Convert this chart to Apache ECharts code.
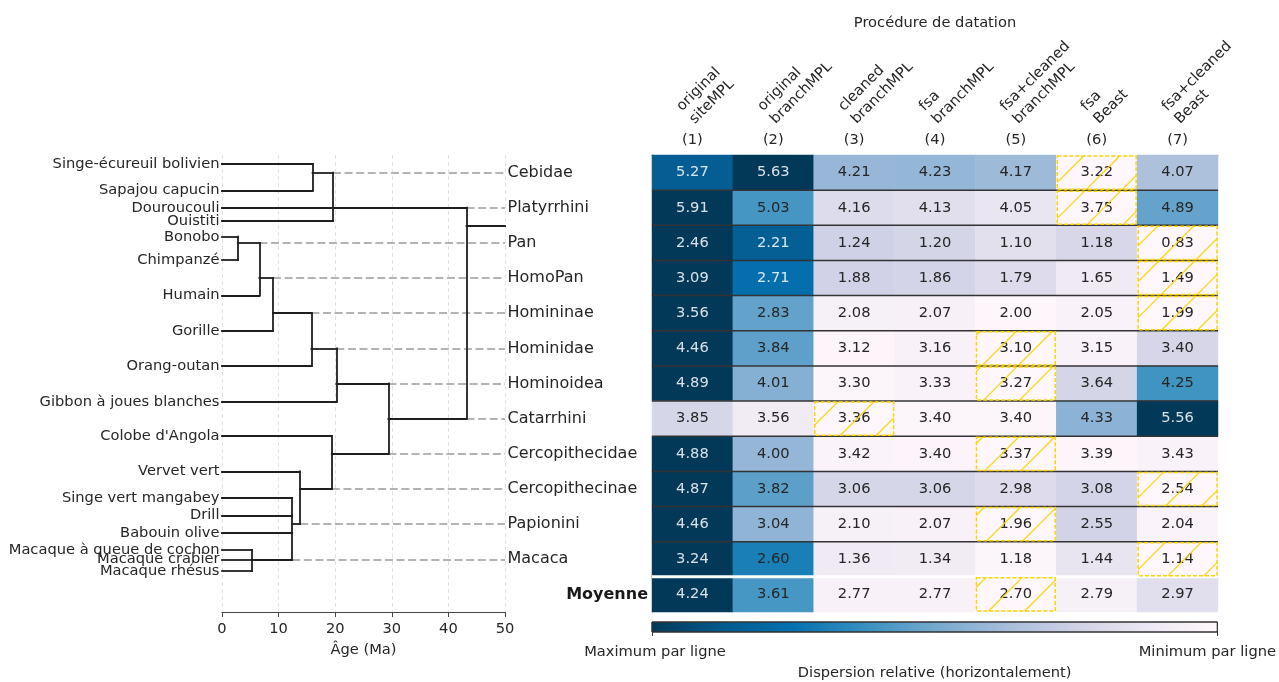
<!DOCTYPE html>
<html><head><meta charset="utf-8">
<script src="https://cdn.jsdelivr.net/npm/echarts@6/dist/echarts.min.js"></script>
<style>html,body{margin:0;padding:0;background:#fff}#c{width:1279px;height:682px}</style>
</head><body><div id="c"></div>
<script>
// ---------------- data ----------------
const methods = ['original\nsiteMPL', 'original\nbranchMPL', 'cleaned\nbranchMPL', 'fsa\nbranchMPL', 'fsa+cleaned\nbranchMPL', 'fsa\nBeast', 'fsa+cleaned\nBeast'];
const methodNumbers = ['(1)', '(2)', '(3)', '(4)', '(5)', '(6)', '(7)'];
const cladeNames = ['Cebidae', 'Platyrrhini', 'Pan', 'HomoPan', 'Homininae', 'Hominidae', 'Hominoidea', 'Catarrhini', 'Cercopithecidae', 'Cercopithecinae', 'Papionini', 'Macaca'];
const cladeAges = [16.0, 19.6, 2.8, 6.6, 9.0, 15.8, 20.2, 29.4, 19.4, 13.8, 12.4, 5.3];
const cladeParents = ['Platyrrhini', 'Racine', 'HomoPan', 'Homininae', 'Hominidae', 'Hominoidea', 'Catarrhini', 'Racine', 'Catarrhini', 'Cercopithecidae', 'Cercopithecinae', 'Papionini'];
const rootAge = 43.2;
const rootStubRow = 1.5;
const leafNames = ['Singe-écureuil bolivien', 'Sapajou capucin', 'Douroucouli', 'Ouistiti', 'Bonobo', 'Chimpanzé', 'Humain', 'Gorille', 'Orang-outan', 'Gibbon à joues blanches', "Colobe d'Angola", 'Vervet vert', 'Singe vert mangabey', 'Drill', 'Babouin olive', 'Macaque à queue de cochon', 'Macaque crabier', 'Macaque rhésus'];
const leafRows = [-0.245, 0.515, 1.0, 1.378, 1.825, 2.488, 3.493, 4.509, 5.505, 6.52, 7.498, 8.503, 9.254, 9.755, 10.25, 10.74, 11.007, 11.34];
const leafParents = ['Cebidae', 'Cebidae', 'Platyrrhini', 'Platyrrhini', 'Pan', 'Pan', 'HomoPan', 'Homininae', 'Hominidae', 'Hominoidea', 'Cercopithecidae', 'Cercopithecinae', 'Papionini', 'Papionini', 'Papionini', 'Macaca', 'Macaca', 'Macaca'];
const ageTicks = [0, 10, 20, 30, 40, 50];
const meanLabel = 'Moyenne';
const dispersion = [
  [5.27, 5.63, 4.21, 4.23, 4.17, 3.22, 4.07],
  [5.91, 5.03, 4.16, 4.13, 4.05, 3.75, 4.89],
  [2.46, 2.21, 1.24, 1.20, 1.10, 1.18, 0.83],
  [3.09, 2.71, 1.88, 1.86, 1.79, 1.65, 1.49],
  [3.56, 2.83, 2.08, 2.07, 2.00, 2.05, 1.99],
  [4.46, 3.84, 3.12, 3.16, 3.10, 3.15, 3.40],
  [4.89, 4.01, 3.30, 3.33, 3.27, 3.64, 4.25],
  [3.85, 3.56, 3.36, 3.40, 3.40, 4.33, 5.56],
  [4.88, 4.00, 3.42, 3.40, 3.37, 3.39, 3.43],
  [4.87, 3.82, 3.06, 3.06, 2.98, 3.08, 2.54],
  [4.46, 3.04, 2.10, 2.07, 1.96, 2.55, 2.04],
  [3.24, 2.60, 1.36, 1.34, 1.18, 1.44, 1.14],
  [4.24, 3.61, 2.77, 2.77, 2.70, 2.79, 2.97]
];
const colorbarLabels = ['Maximum par ligne', 'Minimum par ligne'];

// ---------------- build ----------------
const FONT = 'DejaVu Sans';
const FS = 14.67;
const TXT = '#262626';
const PuBu = ['#fff7fb', '#ece7f2', '#d0d1e6', '#a6bddb', '#74a9cf', '#3690c0', '#0570b0', '#045a8d', '#023858'];
const ageMax = ageTicks[ageTicks.length - 1];
const rowLabels = cladeNames.concat([meanLabel]);

function ageOf(name) { return name === 'Racine' ? rootAge : cladeAges[cladeNames.indexOf(name)]; }

const treeSegs = [];
const dashSegs = [];
leafNames.forEach((n, i) => treeSegs.push([[0, leafRows[i]], [ageOf(leafParents[i]), leafRows[i]]]));
cladeNames.forEach((n, i) => {
  const pa = ageOf(cladeParents[i]);
  treeSegs.push([[cladeAges[i], i], [pa, i]]);
  dashSegs.push([[pa, i], [ageMax, i]]);
});
cladeNames.concat(['Racine']).forEach((n) => {
  const rows = [];
  leafParents.forEach((p, i) => { if (p === n) rows.push(leafRows[i]); });
  cladeParents.forEach((p, i) => { if (p === n) rows.push(i); });
  const a = ageOf(n);
  treeSegs.push([[a, Math.min(...rows)], [a, Math.max(...rows)]]);
});
treeSegs.push([[rootAge, rootStubRow], [ageMax, rootStubRow]]);

const heatData = [];
const minCells = [];
dispersion.forEach((row, r) => {
  const mn = Math.min(...row), mx = Math.max(...row);
  row.forEach((v, c) => {
    const t = (v - mn) / (mx - mn);
    heatData.push({ value: [c, r, t, v], label: { color: t > 0.72 ? 'rgba(255,255,255,0.85)' : TXT } });
  });
  minCells.push([row.indexOf(mn), r]);
});

const chart = echarts.init(document.getElementById('c'));
const option = {
  animation: false,
  textStyle: { fontFamily: FONT },
  grid: [
    { left: 222, top: 155, width: 283, height: 457 },
    { left: 652, top: 155, width: 566, height: 457 },
    { left: 652, top: 622, width: 566, height: 18 }
  ],
  visualMap: [{
    show: false, type: 'continuous', seriesIndex: 4, dimension: 2, min: 0, max: 1,
    inRange: { color: PuBu }
  }],
  xAxis: [
    {
      gridIndex: 0, type: 'value', min: ageTicks[0], max: ageMax, interval: 10, position: 'bottom',
      axisLine: { onZero: false, lineStyle: { color: '#444', width: 1 } },
      axisTick: { length: 5, lineStyle: { color: '#444' } },
      axisLabel: { fontSize: FS, color: TXT, margin: 10, fontFamily: FONT },
      splitLine: { show: true, lineStyle: { type: [4, 3], color: '#e2e2e2', width: 1 } },
      name: 'Âge (Ma)', nameLocation: 'middle', nameGap: 31,
      nameTextStyle: { fontSize: FS, color: TXT, fontFamily: FONT }
    },
    {
      gridIndex: 1, type: 'category', data: methodNumbers, position: 'top',
      axisLine: { show: true, onZero: false, lineStyle: { color: '#666', width: 1 } },
      axisTick: { show: false },
      axisLabel: { fontSize: FS, color: TXT, margin: 7, fontFamily: FONT },
      splitLine: { show: false },
      name: 'Procédure de datation', nameLocation: 'middle', nameGap: 124,
      nameTextStyle: { fontSize: FS, color: TXT, fontFamily: FONT }
    },
    {
      gridIndex: 2, type: 'value', min: 0, max: 1, interval: 1,
      axisLine: { show: false, onZero: false },
      axisTick: { show: true, length: 4, lineStyle: { color: '#333' } },
      splitLine: { show: false },
      axisLabel: {
        margin: 13, fontSize: FS, color: TXT, fontFamily: FONT,
        formatter: (v) => v === 0 ? '{a|' + colorbarLabels[0] + '}' : '{b|' + colorbarLabels[1] + '}',
        rich: {
          a: { fontSize: FS, color: TXT, fontFamily: FONT, padding: [0, 0, 0, 6] },
          b: { fontSize: FS, color: TXT, fontFamily: FONT, padding: [0, 20, 0, 0] }
        }
      },
      name: 'Dispersion relative (horizontalement)', nameLocation: 'middle', nameGap: 34,
      nameTextStyle: { fontSize: FS, color: TXT, fontFamily: FONT }
    }
  ],
  yAxis: [
    { gridIndex: 0, type: 'value', min: -0.5, max: rowLabels.length - 0.5, inverse: true, show: false },
    {
      gridIndex: 1, type: 'category', data: rowLabels, inverse: true,
      axisLine: { show: true, onZero: false, lineStyle: { color: '#777', width: 1 } },
      axisTick: { show: false }, splitLine: { show: false },
      axisLabel: {
        interval: 0, margin: 4, fontSize: 16, fontWeight: 'bold', color: '#1a1a1a', fontFamily: FONT,
        formatter: (v) => v === meanLabel ? v : ''
      }
    },
    { gridIndex: 2, type: 'value', min: 0, max: 1, show: false }
  ],
  series: [
    {
      type: 'lines', coordinateSystem: 'cartesian2d', xAxisIndex: 0, yAxisIndex: 0, silent: true, z: 2,
      data: dashSegs.map(s => ({ coords: s })),
      lineStyle: { color: '#b3b3b3', width: 1.8, type: [8, 3.6], opacity: 1 }
    },
    {
      type: 'lines', coordinateSystem: 'cartesian2d', xAxisIndex: 0, yAxisIndex: 0, silent: true, z: 3,
      data: treeSegs.map(s => ({ coords: s })),
      lineStyle: { color: '#1f1f1f', width: 1.8, opacity: 1, cap: 'square' }
    },
    {
      type: 'scatter', xAxisIndex: 0, yAxisIndex: 0, silent: true, symbolSize: 1,
      itemStyle: { color: 'rgba(0,0,0,0)', opacity: 1 },
      data: leafNames.map((n, i) => [0, leafRows[i], n]),
      label: { show: true, position: 'left', distance: 2, opacity: 1, formatter: p => p.data[2], fontSize: FS, color: TXT, fontFamily: FONT }
    },
    {
      type: 'scatter', xAxisIndex: 0, yAxisIndex: 0, silent: true, symbolSize: 1,
      itemStyle: { color: 'rgba(0,0,0,0)', opacity: 1 },
      data: cladeNames.map((n, i) => [ageMax, i, n]),
      label: { show: true, position: 'right', distance: 2, opacity: 1, formatter: p => p.data[2], fontSize: 16, color: TXT, fontFamily: FONT }
    },
    {
      type: 'heatmap', xAxisIndex: 1, yAxisIndex: 1, silent: true, z: 2,
      data: heatData,
      itemStyle: { borderWidth: 0 },
      label: { show: true, formatter: p => p.value[3].toFixed(2), fontSize: FS, fontFamily: FONT },
      emphasis: { disabled: true }
    },
    {
      type: 'custom', xAxisIndex: 1, yAxisIndex: 1, silent: true, z: 5, clip: false,
      data: rowLabels.slice(1).map((_, i) => [0, i + 1]),
      renderItem(params, api) {
        const k = api.value(1);
        const a = api.coord([0, k - 1]), b = api.coord([0, k]);
        const s = api.size([1, 1]);
        const y = (a[1] + b[1]) / 2;
        const x0 = a[0] - s[0] / 2;
        const x1 = api.coord([methods.length - 1, k])[0] + s[0] / 2;
        const isMean = k === rowLabels.length - 1;
        return { type: 'line', shape: { x1: x0, y1: y, x2: x1, y2: y },
          style: { stroke: isMean ? '#ffffff' : '#333333', lineWidth: isMean ? 3 : 1.5 } };
      }
    },
    {
      type: 'custom', xAxisIndex: 1, yAxisIndex: 1, silent: true, z: 6, clip: false,
      data: minCells,
      renderItem(params, api) {
        const c = api.coord([api.value(0), api.value(1)]);
        const s = api.size([1, 1]);
        const x0 = c[0] - s[0] / 2 + 1, y0 = c[1] - s[1] / 2 + 1, w = s[0] - 2, h = s[1] - 2;
        const children = [];
        const sp = 36, ph = 15.7;
        const cMin = x0 + y0, cMax = x0 + w + y0 + h;
        for (let k = Math.ceil((cMin - ph) / sp); ph + k * sp <= cMax; k++) {
          const cc = ph + k * sp;
          const xa = Math.max(x0, cc - (y0 + h)), xb = Math.min(x0 + w, cc - y0);
          if (xb - xa < 0.5) continue;
          children.push({ type: 'line', shape: { x1: xa, y1: cc - xa, x2: xb, y2: cc - xb },
            style: { stroke: '#ffd400', lineWidth: 1.2 } });
        }
        children.push({ type: 'rect', shape: { x: x0, y: y0, width: w, height: h },
          style: { fill: 'none', stroke: '#ffd400', lineWidth: 1.5, lineDash: [4, 2] } });
        return { type: 'group', children };
      }
    },
    {
      type: 'custom', xAxisIndex: 2, yAxisIndex: 2, silent: true, clip: false,
      data: [[0, 0]],
      renderItem(params, api) {
        const p0 = api.coord([0, 1]), p1 = api.coord([1, 0]);
        const stops = PuBu.slice().reverse().map((col, i) => ({ offset: i / (PuBu.length - 1), color: col }));
        return { type: 'rect', shape: { x: p0[0], y: p0[1], width: p1[0] - p0[0], height: p1[1] - p0[1] },
          style: { fill: new echarts.graphic.LinearGradient(0, 0, 1, 0, stops), stroke: '#333', lineWidth: 1 } };
      }
    }
  ]
};
chart.setOption(option);

// rotated column headers, placed with the heatmap axes
const colX = methods.map((m, i) => chart.convertToPixel({ xAxisIndex: 1 }, i));
const row0 = chart.convertToPixel({ yAxisIndex: 1 }, 0);
const row1 = chart.convertToPixel({ yAxisIndex: 1 }, 1);
const heatTop = row0 - (row1 - row0) / 2;
chart.setOption({
  graphic: methods.map((m, i) => ({
    type: 'text', x: colX[i] + 6, y: heatTop - 27, rotation: Math.PI / 4, silent: true,
    style: { text: m, fontSize: FS, fontFamily: FONT, fill: TXT, align: 'left', verticalAlign: 'bottom', lineHeight: 18 }
  }))
});
</script>
</body></html>
